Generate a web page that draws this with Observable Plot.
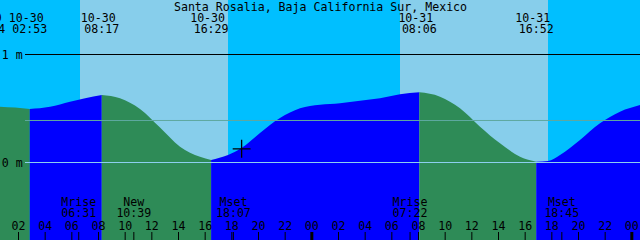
<!DOCTYPE html>
<html><head><meta charset="utf-8">
<script src="https://cdn.jsdelivr.net/npm/d3@7"></script>
<script src="https://cdn.jsdelivr.net/npm/@observablehq/plot@0.6"></script>
<style>html,body{margin:0;padding:0;background:#fff;overflow:hidden}</style>
</head><body><div id="chart"></div>
<script>
// ---- data ----
const title = "Santa Rosalia, Baja California Sur, Mexico";
const xStart = "2016-10-30 00:39";
const xEnd = "2016-11-01 00:39";

const tideTimes = [
  "2016-10-30 00:39","2016-10-30 01:47","2016-10-30 02:53","2016-10-30 04:24","2016-10-30 05:54","2016-10-30 07:02",
  "2016-10-30 08:17","2016-10-30 09:39","2016-10-30 11:09","2016-10-30 12:39","2016-10-30 14:09",
  "2016-10-30 15:39","2016-10-30 16:29","2016-10-30 17:45","2016-10-30 18:44","2016-10-30 20:09",
  "2016-10-30 21:39","2016-10-30 23:09","2016-10-31 00:39","2016-10-31 02:09","2016-10-31 03:39",
  "2016-10-31 05:09","2016-10-31 06:39","2016-10-31 08:06","2016-10-31 09:39","2016-10-31 11:09",
  "2016-10-31 12:39","2016-10-31 14:09","2016-10-31 15:39","2016-10-31 16:52","2016-10-31 17:45",
  "2016-10-31 18:39","2016-10-31 20:09","2016-10-31 21:39","2016-10-31 23:09","2016-11-01 00:39"
];
const tideHeights = [
  0.512, 0.504, 0.491, 0.512, 0.558, 0.590,
  0.620, 0.590, 0.491, 0.319, 0.142,
  0.049, 0.019, 0.065, 0.127, 0.269,
  0.407, 0.497, 0.531, 0.544, 0.568,
  0.590, 0.627, 0.645, 0.605, 0.497,
  0.327, 0.173, 0.049, 0.003, 0.009,
  0.065, 0.204, 0.358, 0.466, 0.528
];

const tideEventTimes = ["2016-10-29 23:44","2016-10-30 02:53","2016-10-30 08:17","2016-10-30 16:29","2016-10-31 08:06","2016-10-31 16:52"];
const tideEventTypes = ["High","Low","High","Low","High","Low"];

const sunriseTimes = ["2016-10-30 06:39","2016-10-31 06:39"];
const sunsetTimes  = ["2016-10-30 17:45","2016-10-31 17:45"];

const moonTimes  = ["2016-10-30 06:31","2016-10-30 10:39","2016-10-30 18:07","2016-10-31 07:22","2016-10-31 18:45"];
const moonLabels = ["Mrise","New","Mset","Mrise","Mset"];

const levelValues = [1, 0];
const levelLabels = ["1 m", "0 m"];
const meanLevel = 0.389;

const markerTimes = ["2016-10-30 18:44"];
const markerHeights = [0.127];

// ---- build tables ----
const parse = d3.utcParse("%Y-%m-%d %H:%M");
const fmtDate = d3.utcFormat("%m-%d");
const fmtTime = d3.utcFormat("%H:%M");
const fmtHour = d3.utcFormat("%H");
const t0 = parse(xStart), t1 = parse(xEnd);
const yDomain = [-0.7222, 1.5];

const tide = tideTimes.map((t, i) => ({time: parse(t), height: tideHeights[i]}));
const events = tideEventTimes.map((t, i) => ({time: parse(t), type: tideEventTypes[i]}));
const days = sunriseTimes.map((t, i) => ({rise: parse(t), set: parse(sunsetTimes[i])}));
const moon = moonTimes.map((t, i) => ({time: parse(t), label: moonLabels[i]}));
const levels = levelValues.map((v, i) => ({value: v, label: levelLabels[i]}));
const markers = markerTimes.map((t, i) => ({time: parse(t), height: markerHeights[i]}));
// rising (after a low) / falling (after a high) segments of the tide curve
const phases = events.map((e, i) => ({
  start: e.time,
  end: i + 1 < events.length ? events[i + 1].time : t1,
  phase: e.type === "Low" ? "rising" : "falling"
}));
const water = phases.flatMap((p, k) =>
  tide.filter(d => d.time >= p.start && d.time <= p.end)
      .map(d => ({...d, seg: k, phase: p.phase})));
const hourTicks = d3.utcHour.every(2).range(t0, t1);

const font = {fontFamily: "DejaVu Sans Mono", fontSize: 11.6};

const plot = Plot.plot({
  width: 640,
  height: 240,
  margin: 0,
  style: {background: "#00BFFF", overflow: "hidden", fontFamily: "DejaVu Sans Mono"},
  x: {type: "utc", domain: [t0, t1], axis: null},
  y: {domain: yDomain, axis: null},
  color: {type: "ordinal", domain: ["rising", "falling"], range: ["#0000FF", "#2E8B57"]},
  marks: [
    Plot.rect(days, {x1: "rise", x2: "set", fill: "#87CEEB"}),
    Plot.areaY(water, {x: "time", y1: yDomain[0], y2: "height", z: "seg", fill: "phase", curve: "monotone-x"}),
    Plot.ruleY([meanLevel], {stroke: "#5fa8a0", insetLeft: 25}),
    Plot.ruleY(levels.filter(d => d.value === 0), {y: "value", stroke: "#8ccff0", insetLeft: 25}),
    Plot.ruleY(levels.filter(d => d.value === 1), {y: "value", stroke: "black", insetLeft: 25}),
    Plot.dot(markers, {x: "time", y: "height", symbol: "plus", r: 5.8, stroke: "black", strokeWidth: 1.3}),
    Plot.text([title], {text: d => d, frameAnchor: "top", lineAnchor: "top", dy: 2, ...font}),
    Plot.text(events, {x: "time", text: d => fmtDate(d.time), frameAnchor: "top", lineAnchor: "top", dy: 13, dx: -4, ...font}),
    Plot.text(events, {x: "time", text: d => fmtTime(d.time), frameAnchor: "top", lineAnchor: "top", dy: 24, dx: -0.5, ...font}),
    Plot.text(levels, {y: "value", text: "label", frameAnchor: "left", textAnchor: "start", dx: 1.2, dy: 1.2, ...font}),
    Plot.text(moon, {x: "time", text: d => d.label + "\n" + fmtTime(d.time), frameAnchor: "top", lineAnchor: "top", dy: 197, lineHeight: 0.99, ...font}),
    Plot.text(hourTicks, {x: d => d, text: d => fmtHour(d), frameAnchor: "top", lineAnchor: "top", dy: 221, ...font}),
    Plot.ruleX(hourTicks.filter(d => d.getUTCHours() !== 0), {x: d => d, stroke: "black", insetTop: 232}),
    Plot.ruleX(hourTicks.filter(d => d.getUTCHours() === 0), {x: d => d, stroke: "black", strokeWidth: 3, insetTop: 232}),
    Plot.ruleX(moon, {x: "time", stroke: "black", insetTop: 232})
  ]
});

document.getElementById("chart").appendChild(plot);
</script>
</body></html>
